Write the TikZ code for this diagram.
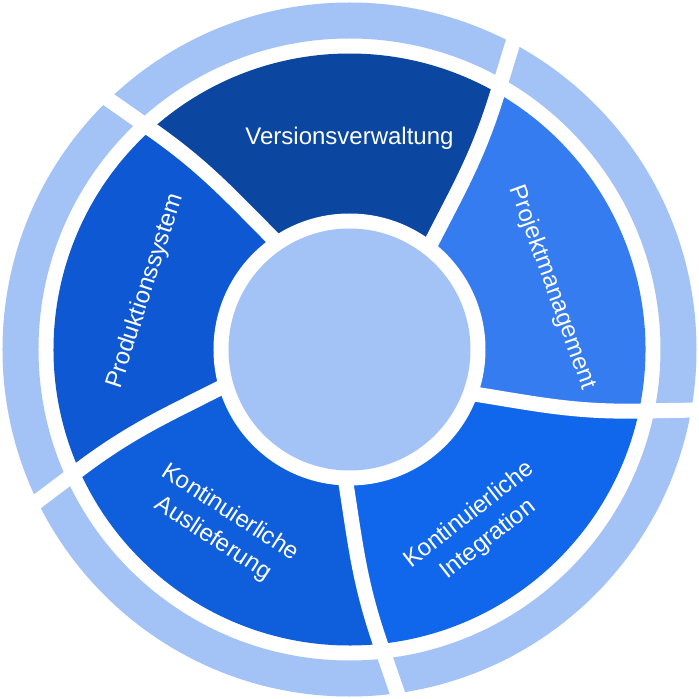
\documentclass[tikz,border=0pt]{standalone}
\usepackage{fontspec}
\setmainfont{Liberation Sans}
\usepackage{tikz}
\usetikzlibrary{positioning, calc}
\usepackage{xcolor}

\definecolor{vcol}{HTML}{0B46A0}
\definecolor{pmcol}{HTML}{347CF0}
\definecolor{kicol}{HTML}{1067EB}
\definecolor{kacol}{HTML}{0F5EDB}
\definecolor{pscol}{HTML}{0E58D3}
\definecolor{lightcol}{HTML}{A3C3F7}

\begin{document}
\begin{tikzpicture}[x=1pt, y=1pt,
    lbl/.style={text=white, align=center, inner sep=0pt, font=\fontsize{24}{31}\selectfont},
    gapline/.style={white, line width=15pt}]
      \useasboundingbox (-349.5, -349.5) rectangle (349.5, 349.5);
      \fill[white] (-349.5, -349.5) rectangle (349.5, 349.5);

      % outer ring
      \fill[lightcol, even odd rule] (0, 0) circle (347) (0, 0) circle (311);

      % the five segments
      \foreach \k/\col in {0/vcol, 1/pmcol, 2/kicol, 3/kacol, 4/pscol} {
        \fill[\col] (0, 0) -- ({52-72*\k}:128) to[out={63-72*\k}, in={253-72*\k}] ({60-72*\k}:296)
          arc[start angle={60-72*\k}, end angle={132-72*\k}, radius=296]
          to[out={325-72*\k}, in={135-72*\k}] ({124-72*\k}:128) -- cycle;
      }

      % gaps between the segments and through the ring
      \foreach \k in {0, 1, 2, 3, 4} {
        \draw[gapline] ({52-72*\k}:128) to[out={63-72*\k}, in={253-72*\k}] ({60-72*\k}:296) -- ++({73-72*\k}:65);
      }

      \fill[white] (0, 0) circle (136);
      \node[circle, fill=lightcol, inner sep=0pt, minimum size=242pt] (hub) at (0, 0) {};

      \node[lbl] (vers) at (90:211) {Versionsverwaltung};
      \node[lbl, rotate=-70] (proj) at (17:212) {Projektmanagement};
      \node[lbl, rotate=38] (ki) at (-54:220) {Kontinuierliche\\Integration};
      \node[lbl, rotate=-33] (ka) at (-126:218) {Kontinuierliche\\Auslieferung};
      \node[lbl, rotate=72] (prod) at (164:212) {Produktionssystem};
    \end{tikzpicture}
\end{document}
